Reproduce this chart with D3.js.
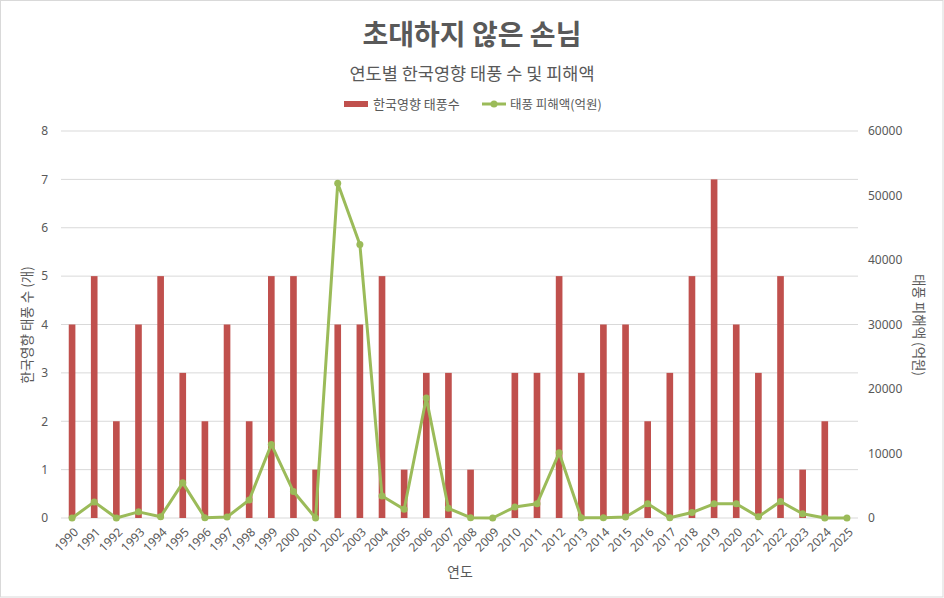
<!DOCTYPE html>
<html><head><meta charset="utf-8">
<script src="https://cdn.jsdelivr.net/npm/d3@7"></script>
<style>
body{margin:0;background:#fff;}
svg{font-family:"Noto Sans CJK KR","Noto Sans",sans-serif;}
</style></head>
<body>
<svg id="c" width="944" height="598"></svg>
<script>
const years = ["1990","1991","1992","1993","1994","1995","1996","1997","1998","1999","2000","2001","2002","2003","2004","2005","2006","2007","2008","2009","2010","2011","2012","2013","2014","2015","2016","2017","2018","2019","2020","2021","2022","2023","2024","2025"];
const typhoonCount = [4,5,2,4,5,3,2,4,2,5,5,1,4,4,5,1,3,3,1,0,3,3,5,3,4,4,2,3,5,7,4,3,5,1,2,0];
const damage = [0,2500,0,950,200,5450,30,150,2800,11400,4100,0,51900,42400,3400,1350,18600,1500,50,0,1700,2200,10100,40,50,150,2200,50,850,2200,2200,200,2550,650,0,0];
const leftTicks = [0,1,2,3,4,5,6,7,8];
const rightTicks = [0,10000,20000,30000,40000,50000,60000];
const titleText = "초대하지 않은 손님";
const subtitleText = "연도별 한국영향 태풍 수 및 피해액";
const seriesNames = ["한국영향 태풍수","태풍 피해액(억원)"];
const leftTitle = "한국영향 태풍 수 (개)";
const rightTitle = "태풍 피해액 (억원)";
const xTitle = "연도";

const svg = d3.select("#c");
const W=944,H=598;
const L=61,R=858,T=131,B=518;
const txt="#595959", red="#C0504D", green="#9BBB59", grid="#D9D9D9";

svg.append("rect").attr("x",0.5).attr("y",0.5).attr("width",W-1.5).attr("height",H-1.5)
  .attr("fill","#fff").attr("stroke","#D9D9D9");

const x = d3.scaleBand().domain(years).range([L,R]).paddingInner(0.7).paddingOuter(0.35);
const yL = d3.scaleLinear().domain([0,8]).range([B,T]);
const yR = d3.scaleLinear().domain([0,60000]).range([B,T]);

// gridlines
svg.append("g").selectAll("line").data(leftTicks).join("line")
  .attr("x1",L).attr("x2",R).attr("y1",d=>yL(d)).attr("y2",d=>yL(d))
  .attr("stroke",grid).attr("stroke-width",1);

// left axis
const axL = svg.append("g").attr("transform",`translate(${L},0)`)
  .call(d3.axisLeft(yL).tickValues(leftTicks).tickSize(0).tickPadding(13).tickFormat(d3.format("d")));
axL.select(".domain").remove();
axL.selectAll("text").attr("fill",txt).style("font-size","12px").style("font-family","'Noto Sans','DejaVu Sans',sans-serif");

// right axis
const axR = svg.append("g").attr("transform",`translate(${R},0)`)
  .call(d3.axisRight(yR).tickValues(rightTicks).tickSize(0).tickPadding(10).tickFormat(d3.format("d")));
axR.select(".domain").remove();
axR.selectAll("text").attr("fill",txt).style("font-size","12px").style("font-family","'Noto Sans','DejaVu Sans',sans-serif");

// bars
svg.append("g").selectAll("rect").data(years).join("rect")
  .attr("x",d=>x(d)).attr("width",x.bandwidth())
  .attr("y",(d,i)=>yL(typhoonCount[i])).attr("height",(d,i)=>B-yL(typhoonCount[i]))
  .attr("fill",red);

// line
const cx = d=>x(d)+x.bandwidth()/2;
const line = d3.line().x((d,i)=>cx(years[i])).y(d=>yR(d));
svg.append("path").datum(damage).attr("d",line).attr("fill","none")
  .attr("stroke",green).attr("stroke-width",3).attr("stroke-linejoin","round");
svg.append("g").selectAll("circle").data(damage).join("circle")
  .attr("cx",(d,i)=>cx(years[i])).attr("cy",d=>yR(d)).attr("r",3.5).attr("fill",green);

// x axis labels
const axB = svg.append("g").attr("transform",`translate(0,${B})`)
  .call(d3.axisBottom(x).tickSize(0).tickPadding(0));
axB.select(".domain").remove();
axB.selectAll("text").attr("fill",txt).style("font-size","12px")
  .style("font-family","'Noto Sans','DejaVu Sans',sans-serif")
  .attr("text-anchor","end").attr("dy",null).attr("y",0)
  .attr("transform","translate(7,15) rotate(-45)");

// titles
svg.append("text").attr("x",472).attr("y",45).attr("text-anchor","middle")
  .attr("fill",txt).style("font-size","28px").style("font-weight","bold").text(titleText);
svg.append("text").attr("x",472).attr("y",80).attr("text-anchor","middle")
  .attr("fill",txt).style("font-size","17.5px").text(subtitleText);

// legend
const lg = svg.append("g");
lg.append("rect").attr("x",344).attr("y",101).attr("width",24).attr("height",6).attr("fill",red);
lg.append("text").attr("x",373).attr("y",109).attr("fill",txt).style("font-size","13px").text(seriesNames[0]);
lg.append("line").attr("x1",482).attr("x2",506).attr("y1",104).attr("y2",104).attr("stroke",green).attr("stroke-width",3);
lg.append("circle").attr("cx",494).attr("cy",104).attr("r",3.5).attr("fill",green);
lg.append("text").attr("x",510).attr("y",109).attr("fill",txt).style("font-size","12.5px").text(seriesNames[1]);

// axis titles
svg.append("text").attr("transform","translate(32,325) rotate(-90)").attr("text-anchor","middle")
  .attr("fill",txt).style("font-size","13.5px").text(leftTitle);
svg.append("text").attr("transform","translate(914,325) rotate(90)").attr("text-anchor","middle")
  .attr("fill",txt).style("font-size","13.5px").text(rightTitle);
svg.append("text").attr("x",460).attr("y",577).attr("text-anchor","middle")
  .attr("fill",txt).style("font-size","14px").text(xTitle);
</script>
</body></html>
